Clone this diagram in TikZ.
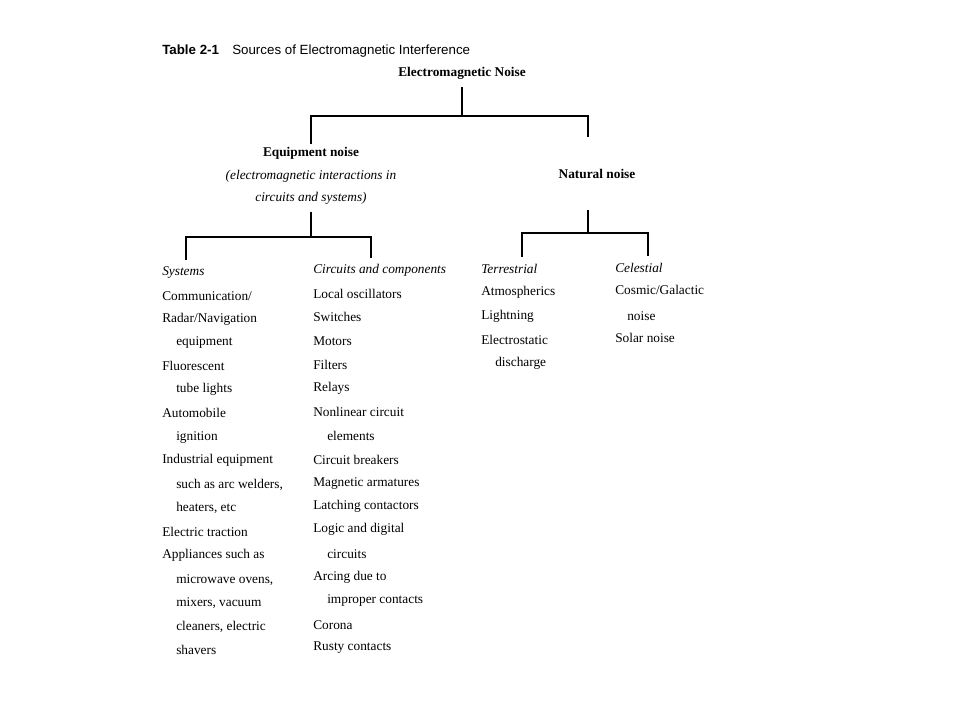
\documentclass[tikz,border=0pt]{standalone}
\usepackage{fontspec}
\setmainfont{Liberation Serif}
\setsansfont{Liberation Sans}
\usepackage{tikz}

\begin{document}
\begin{tikzpicture}[
            x=0.75pt, y=-0.75pt,
            every node/.style={inner sep=2pt},
            head/.style={font=\bfseries},
            item/.style={anchor=west, inner sep=0pt, text height=1.5ex, text depth=.25ex},
            cat/.style={item, font=\itshape},
            link/.style={line width=0.9pt}
        ]
        \useasboundingbox (0,0) rectangle (960,720);
        % Title line
        \node[item, font=\sffamily\bfseries] (tblnum) at (162,51) {Table 2-1};
        \node[item, font=\sffamily] (tbltitle) at (232,51) {Sources of Electromagnetic Interference};
        % Heads of the tree
        \node[head] (emn) at (462,73) {Electromagnetic Noise};
        \node[align=center, font=\fontsize{10}{17}\selectfont] (eqn) at (311,176)
            {\textbf{Equipment noise}\\ \textit{(electromagnetic interactions in}\\ \textit{circuits and systems)}};
        \node[head] (natn) at (597,174) {Natural noise};
        % Column headers
        \node[cat] (sys) at (162,272) {Systems};
        \node[cat] (cir) at (313,270) {Circuits and components};
        \node[cat] (ter) at (481,270) {Terrestrial};
        \node[cat] (cel) at (615,269) {Celestial};
        % Branch points and line ends
        \coordinate (j0) at (462,116);
        \coordinate (nattop) at (588,137);
        \coordinate (j1) at (311,237);
        \coordinate (systop) at (186,260);
        \coordinate (cirtop) at (371,258);
        \coordinate (natbot) at (588,210);
        \coordinate (j2) at (588,233);
        \coordinate (tertop) at (522,257);
        \coordinate (celtop) at (648,256);
        % Connectors
        \draw[link, shorten <=4pt] (emn) -- (j0);
        \draw[link] (eqn) |- (j0) -| (nattop);
        \draw[link, shorten <=3pt] (eqn) -- (j1);
        \draw[link] (systop) |- (j1) -| (cirtop);
        \draw[link] (natbot) -- (j2);
        \draw[link] (tertop) |- (j2) -| (celtop);
        % Items of each column
        \foreach \x/\y/\lbl [count=\i] in {162/297/{Communication/}, 162/319/{Radar/Navigation},
                176/342/equipment, 162/367/Fluorescent, 176/389/{tube lights}, 162/414/Automobile,
                176/437/ignition, 162/460/{Industrial equipment}, 176/485/{such as arc welders,},
                176/508/{heaters, etc}, 162/533/{Electric traction}, 162/555/{Appliances such as},
                176/580/{microwave ovens,}, 176/603/{mixers, vacuum}, 176/627/{cleaners, electric},
                176/651/shavers}
            \node[item] (sys\i) at (\x,\y) {\lbl};
        \foreach \x/\y/\lbl [count=\i] in {313/295/{Local oscillators}, 313/318/Switches,
                313/342/Motors, 313/366/Filters, 313/388/Relays, 313/413/{Nonlinear circuit},
                327/437/elements, 313/461/{Circuit breakers}, 313/483/{Magnetic armatures},
                313/506/{Latching contactors}, 313/529/{Logic and digital}, 327/555/circuits,
                313/577/{Arcing due to}, 327/600/{improper contacts}, 313/626/Corona,
                313/647/{Rusty contacts}}
            \node[item] (cir\i) at (\x,\y) {\lbl};
        \foreach \x/\y/\lbl [count=\i] in {481/292/Atmospherics, 481/316/Lightning,
                481/341/Electrostatic, 495/363/discharge}
            \node[item] (ter\i) at (\x,\y) {\lbl};
        \foreach \x/\y/\lbl [count=\i] in {615/291/{Cosmic/Galactic}, 627/317/noise,
                615/339/{Solar noise}}
            \node[item] (cel\i) at (\x,\y) {\lbl};
\end{tikzpicture}
\end{document}
